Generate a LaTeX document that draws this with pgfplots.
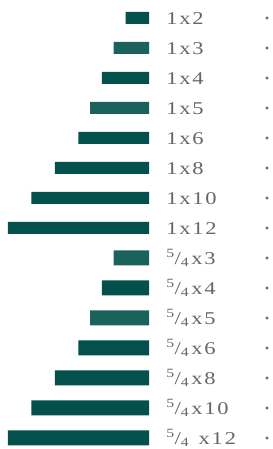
\documentclass[border=0pt]{standalone}
\usepackage{pgfplots}
\pgfplotsset{compat=1.18}
\usepackage{fontspec}
\setmainfont{Liberation Serif}
\newfontfamily\labfont[LetterSpace=10,FakeStretch=1.25]{Liberation Serif}
\definecolor{dk}{HTML}{03504C}
\definecolor{lt}{HTML}{1B625D}
\definecolor{tx}{HTML}{666666}
\newcommand{\fq}{\textsuperscript{5}/\textsubscript{4}\kern2bp}
\newcommand{\lf}{\fontsize{18bp}{20bp}\selectfont\labfont}
\tikzset{lab/.style={anchor=base west, text=tx, inner sep=0pt, yshift=-6.1bp}}
\begin{document}
\begin{tikzpicture}
\begin{axis}[scale only axis, width=273bp, height=449bp, hide axis,
  x dir=reverse, y dir=reverse,
  xmin=-10.54, xmax=12.67, ymin=-0.6, ymax=14.367, clip=false]
\addplot[xbar, bar shift=0pt, bar width=12bp, fill=dk, draw=none] coordinates {(2,0) (4,2) (6,4) (8,5) (10,6) (12,7)};
\addplot[xbar, bar shift=0pt, bar width=12bp, fill=lt, draw=none] coordinates {(3,1) (5,3)};
\addplot[xbar, bar shift=0pt, bar width=15bp, fill=dk, draw=none] coordinates {(4,9) (6,11) (8,12) (10,13) (12,14)};
\addplot[xbar, bar shift=0pt, bar width=15bp, fill=lt, draw=none] coordinates {(3,8) (5,10)};
\addplot[only marks, mark=*, mark size=1.4bp, color=tx] coordinates {(-10.03,0) (-10.03,1) (-10.03,2) (-10.03,3) (-10.03,4) (-10.03,5) (-10.03,6) (-10.03,7) (-10.03,8) (-10.03,9) (-10.03,10) (-10.03,11) (-10.03,12) (-10.03,13) (-10.03,14)};
\node[lab] at (axis cs:-1.45,0) {\lf 1x2};
\node[lab] at (axis cs:-1.45,1) {\lf 1x3};
\node[lab] at (axis cs:-1.45,2) {\lf 1x4};
\node[lab] at (axis cs:-1.45,3) {\lf 1x5};
\node[lab] at (axis cs:-1.45,4) {\lf 1x6};
\node[lab] at (axis cs:-1.45,5) {\lf 1x8};
\node[lab] at (axis cs:-1.45,6) {\lf 1x10};
\node[lab] at (axis cs:-1.45,7) {\lf 1x12};
\node[lab] at (axis cs:-1.45,8) {\lf\fq x3};
\node[lab] at (axis cs:-1.45,9) {\lf\fq x4};
\node[lab] at (axis cs:-1.45,10) {\lf\fq x5};
\node[lab] at (axis cs:-1.45,11) {\lf\fq x6};
\node[lab] at (axis cs:-1.45,12) {\lf\fq x8};
\node[lab] at (axis cs:-1.45,13) {\lf\fq x10};
\node[lab] at (axis cs:-1.45,14) {\lf\fq\ x12};
\end{axis}
\pgfresetboundingbox
\path (current axis.south west) rectangle (current axis.north east);
\end{tikzpicture}
\end{document}
